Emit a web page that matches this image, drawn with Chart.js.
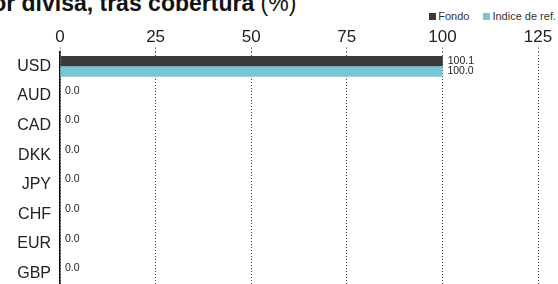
<!DOCTYPE html>
<html lang="es">
<head>
  <meta charset="UTF-8" />
  <title>Exposición por divisa, tras cobertura</title>
  <script src="https://cdn.jsdelivr.net/npm/chart.js"></script>
  <style>
    html, body { margin: 0; padding: 0; background: #fff; overflow: hidden; }
    body { width: 558px; height: 284px; position: relative; font-family: "Liberation Sans", Arial, sans-serif; color: #222; }
    .title-clip { position: absolute; left: 0; top: 0; width: 558px; height: 30px; overflow: hidden; }
    #title { position: absolute; top: -8.5px; line-height: 23px; white-space: nowrap; font-size: 23px; font-weight: bold; color: #111; }
    #title span { font-weight: normal; }
    .legend { position: absolute; top: 10px; right: 2px; font-size: 11px; color: #333; display: flex; gap: 14px; }
    .legend div { display: flex; align-items: center; }
    .legend i { display: inline-block; width: 7px; height: 7px; margin-right: 2px; }
    .chart-box { position: absolute; left: 0; top: 0; width: 558px; height: 307px; }
  </style>
</head>
<body>
  <div class="title-clip"><div id="title">Exposición por divisa, tras cobertura <span>(%)</span></div></div>
  <div class="legend" id="legend"></div>
  <div class="chart-box"><canvas id="currencyChart"></canvas></div>

<script>
// data
const currencies = ["USD", "AUD", "CAD", "DKK", "JPY", "CHF", "EUR", "GBP"];
const fundValues = [100.1, 0.0, 0.0, 0.0, 0.0, 0.0, 0.0, 0.0];
const indexValues = [100.0, 0.0, 0.0, 0.0, 0.0, 0.0, 0.0, 0.0];
const seriesNames = ["Fondo", "Indice de ref."];
const xTicks = [0, 25, 50, 75, 100, 125];

const colors = ["#3a3b38", "#76c6d4"];

// title: right end sits at x=296, the rest runs off the left edge
const titleEl = document.getElementById("title");
titleEl.style.left = (296 - titleEl.offsetWidth) + "px";

// legend
const legendEl = document.getElementById("legend");
seriesNames.forEach((name, i) => {
  const item = document.createElement("div");
  item.innerHTML = `<i style="background:${colors[i]}"></i>${name}`;
  legendEl.appendChild(item);
});

// value labels next to bar ends
const valueLabels = {
  id: "valueLabels",
  afterDatasetsDraw(chart) {
    const ctx = chart.ctx;
    ctx.save();
    ctx.font = "10.5px 'Liberation Sans', Arial, sans-serif";
    ctx.fillStyle = "#222";
    ctx.textBaseline = "middle";
    ctx.textAlign = "left";
    chart.data.datasets.forEach((ds, di) => {
      const meta = chart.getDatasetMeta(di);
      meta.data.forEach((bar, i) => {
        const v = ds.data[i];
        if (di === 1 && v === 0) return; // zero rows only carry one label
        ctx.fillText(v.toFixed(1), bar.x + 5, bar.y);
      });
    });
    ctx.restore();
  }
};

new Chart(document.getElementById("currencyChart").getContext("2d"), {
  type: "bar",
  data: {
    labels: currencies,
    datasets: [
      { label: seriesNames[0], data: fundValues, backgroundColor: colors[0] },
      { label: seriesNames[1], data: indexValues, backgroundColor: colors[1] }
    ]
  },
  options: {
    indexAxis: "y",
    responsive: true,
    maintainAspectRatio: false,
    animation: false,
    layout: { padding: { right: 20 } },
    datasets: { bar: { categoryPercentage: 0.7, barPercentage: 1 } },
    plugins: { legend: { display: false }, tooltip: { enabled: false } },
    scales: {
      x: {
        position: "top",
        min: 0,
        max: 125,
        afterBuildTicks: s => { s.ticks = xTicks.map(v => ({ value: v })); },
        afterFit: s => { s.height = 51.5; },
        border: { display: false, dash: [1, 2] },
        grid: { color: "#444", lineWidth: 1, tickLength: 4, tickBorderDash: [1, 2] },
        ticks: { padding: 0, color: "#222", font: { family: "'Liberation Sans', Arial, sans-serif", size: 17 } }
      },
      y: {
        afterFit: s => { s.width = 60; },
        border: { display: true, color: "#111", width: 1.5 },
        grid: { display: false, drawTicks: false },
        ticks: { padding: 9, color: "#222", font: { family: "'Liberation Sans', Arial, sans-serif", size: 16 } }
      }
    }
  },
  plugins: [valueLabels]
});
</script>
</body>
</html>
